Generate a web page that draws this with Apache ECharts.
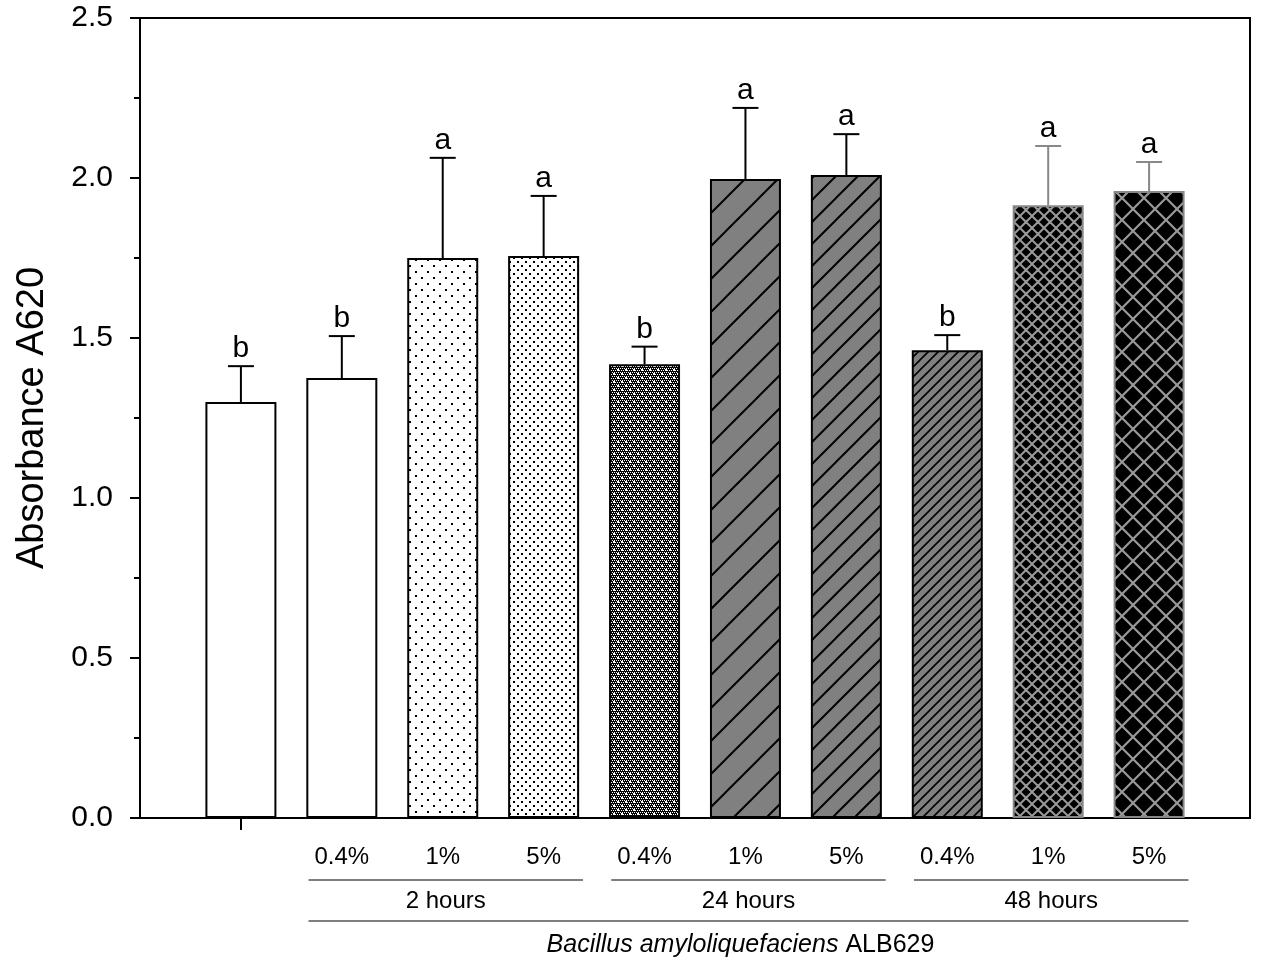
<!DOCTYPE html>
<html>
<head>
<meta charset="utf-8">
<script src="https://cdn.jsdelivr.net/npm/echarts@6/dist/echarts.min.js"></script>
<style>
html,body{margin:0;padding:0;background:#fff;}
#chart{width:1261px;height:967px;}
</style>
</head>
<body>
<div id="chart"></div>
<script>
// ---- data ----
const xLabels = ['', '', '0.4%', '1%', '5%', '0.4%', '1%', '5%', '0.4%', '1%', '5%', ''];
const means   = [1.30, 1.375, 1.75, 1.756, 1.418, 1.997, 2.009, 1.462, 1.915, 1.959];
const errors  = [0.112, 0.131, 0.313, 0.188, 0.055, 0.222, 0.128, 0.047, 0.185, 0.091];
const letters = ['b', 'b', 'a', 'a', 'b', 'a', 'a', 'b', 'a', 'a'];
const groups  = ['2 hours', '24 hours', '48 hours'];
const groupFirst = [2, 5, 8];
const groupLast  = [4, 7, 10];
const yTicks = [0, 0.5, 1.0, 1.5, 2.0, 2.5];

const FONT = 'Liberation Sans, Arial, sans-serif';

// ---- pattern helpers ----
function tile(w, h, draw) {
  const c = document.createElement('canvas');
  c.width = w; c.height = h;
  const ctx = c.getContext('2d');
  draw(ctx, w, h);
  return { image: c, repeat: 'repeat' };
}
function dots(size, bg, fg, d) {
  return tile(size, size, (ctx, w, h) => {
    ctx.fillStyle = bg; ctx.fillRect(0, 0, w, h);
    ctx.fillStyle = fg;
    ctx.fillRect(1, 1, d, d);
    ctx.fillRect(1 + size / 2, 1 + size / 2, d, d);
  });
}
function diag(s, bg, fg, lw) {
  return tile(s, s, (ctx, w, h) => {
    ctx.fillStyle = bg; ctx.fillRect(0, 0, w, h);
    ctx.strokeStyle = fg; ctx.lineWidth = lw;
    ctx.beginPath();
    ctx.moveTo(-1, s + 1); ctx.lineTo(s + 1, -1);
    ctx.moveTo(-s / 2 - 1, s / 2 + 1); ctx.lineTo(s / 2 + 1, -s / 2 - 1);
    ctx.moveTo(s / 2 - 1, 1.5 * s + 1); ctx.lineTo(1.5 * s + 1, s / 2 - 1);
    ctx.stroke();
  });
}
function cross(s, bg, fg, lw) {
  return tile(s, s, (ctx, w, h) => {
    ctx.fillStyle = bg; ctx.fillRect(0, 0, w, h);
    ctx.strokeStyle = fg; ctx.lineWidth = lw;
    ctx.beginPath();
    ctx.moveTo(-1, s + 1); ctx.lineTo(s + 1, -1);
    ctx.moveTo(-1, -1); ctx.lineTo(s + 1, s + 1);
    ctx.moveTo(-s / 2, s / 2); ctx.lineTo(s / 2, -s / 2);
    ctx.moveTo(s / 2, 1.5 * s); ctx.lineTo(1.5 * s, s / 2);
    ctx.moveTo(-s / 2, s / 2); ctx.lineTo(s / 2, 1.5 * s);
    ctx.moveTo(s / 2, -s / 2); ctx.lineTo(1.5 * s, s / 2);
    ctx.stroke();
  });
}
const checkDots = tile(8, 8, (ctx, w, h) => {
  ctx.fillStyle = '#000'; ctx.fillRect(0, 0, w, h);
  ctx.fillStyle = '#fff';
  for (let y = 0; y < h; y += 2) for (let x = (y / 2) % 2; x < w; x += 2) ctx.fillRect(x, y, 1, 1);
  ctx.fillRect(1, 1, 2, 2); ctx.fillRect(5, 5, 2, 2);
});

const fills = [
  '#ffffff',
  '#ffffff',
  dots(12, '#ffffff', '#000', 2),
  dots(8, '#ffffff', '#000', 2),
  checkDots,
  diag(33, '#808080', '#000', 2),
  diag(22, '#808080', '#000', 2),
  diag(10, '#808080', '#000', 1.6),
  cross(12, '#000', '#999', 2),
  cross(22, '#000', '#999', 2.2)
];
const borders = ['#000', '#000', '#000', '#000', '#000', '#000', '#000', '#000', '#888', '#888'];

const barData = means.map((v, i) => ({
  value: [i + 1, v],
  itemStyle: { color: fills[i], borderColor: borders[i], borderWidth: 2 }
}));
const errData = means.map((v, i) => [i + 1, v, v + errors[i], i]);

const chart = echarts.init(document.getElementById('chart'));
const option = {
  animation: false,
  backgroundColor: '#fff',
  grid: { left: 140, right: 11, top: 18, bottom: 149, show: true, borderColor: '#000', borderWidth: 2, backgroundColor: 'transparent' },
  xAxis: {
    type: 'category',
    data: xLabels,
    boundaryGap: false,
    axisLine: { lineStyle: { color: '#000', width: 2 } },
    axisTick: { show: true, length: 12, lineStyle: { color: '#000', width: 2 }, interval: (idx) => idx === 1 },
    axisLabel: { interval: 0, margin: 27, fontSize: 24, color: '#000', fontFamily: FONT },
    splitLine: { show: false }
  },
  yAxis: {
    type: 'value',
    min: 0, max: 2.5, interval: 0.5,
    name: 'Absorbance A620',
    nameLocation: 'middle',
    nameGap: 88,
    nameTextStyle: { fontSize: 38, color: '#000', fontFamily: FONT },
    axisLine: { show: true, lineStyle: { color: '#000', width: 2 } },
    axisTick: { show: true, length: 10, lineStyle: { color: '#000', width: 2 } },
    minorTick: { show: true, splitNumber: 2, length: 6, lineStyle: { color: '#000', width: 2 } },
    axisLabel: { margin: 27, fontSize: 30, color: '#000', fontFamily: FONT, formatter: v => v.toFixed(1) },
    splitLine: { show: false }
  },
  series: [
    {
      type: 'bar',
      data: barData,
      barWidth: 71,
      z: 2
    },
    {
      type: 'custom',
      data: errData,
      z: 3,
      renderItem: function (params, api) {
        const x = api.value(0);
        const base = api.coord([x, api.value(1)]);
        const top = api.coord([x, api.value(2)]);
        const i = api.value(3);
        const col = i >= 8 ? '#888' : '#000';
        const cap = 13;
        return {
          type: 'group',
          children: [
            { type: 'line', shape: { x1: base[0], y1: base[1], x2: top[0], y2: top[1] }, style: { stroke: col, lineWidth: 2 } },
            { type: 'line', shape: { x1: top[0] - cap, y1: top[1], x2: top[0] + cap, y2: top[1] }, style: { stroke: col, lineWidth: 2 } },
            { type: 'text', style: { text: letters[i], x: top[0], y: top[1] - 2, align: 'center', verticalAlign: 'bottom', fontSize: 30, fill: '#000', fontFamily: FONT } }
          ]
        };
      }
    }
  ]
};
chart.setOption(option);

// group annotations under the axis, positioned via axis conversion
function drawGroups() {
  const px = i => chart.convertToPixel({ xAxisIndex: 0 }, i);
  const y0 = chart.convertToPixel({ yAxisIndex: 0 }, 0);
  const step = px(2) - px(1);
  const els = [];
  let allStart = Infinity, allEnd = -Infinity;
  groups.forEach((g, k) => {
    const s = px(groupFirst[k]) - 0.33 * step;
    const e = px(groupLast[k]) + 0.39 * step;
    allStart = Math.min(allStart, s); allEnd = Math.max(allEnd, e);
    els.push({ type: 'line', shape: { x1: s, y1: y0 + 62, x2: e, y2: y0 + 62 }, style: { stroke: '#000', lineWidth: 1.2 } });
    els.push({ type: 'text', style: { text: g, x: (s + e) / 2, y: y0 + 83, align: 'center', verticalAlign: 'middle', fontSize: 24, fill: '#000', fontFamily: FONT } });
  });
  els.push({ type: 'line', shape: { x1: allStart, y1: y0 + 103, x2: allEnd, y2: y0 + 103 }, style: { stroke: '#000', lineWidth: 1.2 } });
  els.push({
    type: 'text',
    style: {
      text: '{i|Bacillus amyloliquefaciens} ALB629',
      x: (allStart + allEnd) / 2 - 8, y: y0 + 127, align: 'center', verticalAlign: 'middle',
      fontSize: 25, fill: '#000', fontFamily: FONT,
      rich: { i: { fontStyle: 'italic', fontSize: 25, fontFamily: FONT, fill: '#000' } }
    }
  });
  chart.setOption({ graphic: { elements: els } });
}
drawGroups();
</script>
</body>
</html>
